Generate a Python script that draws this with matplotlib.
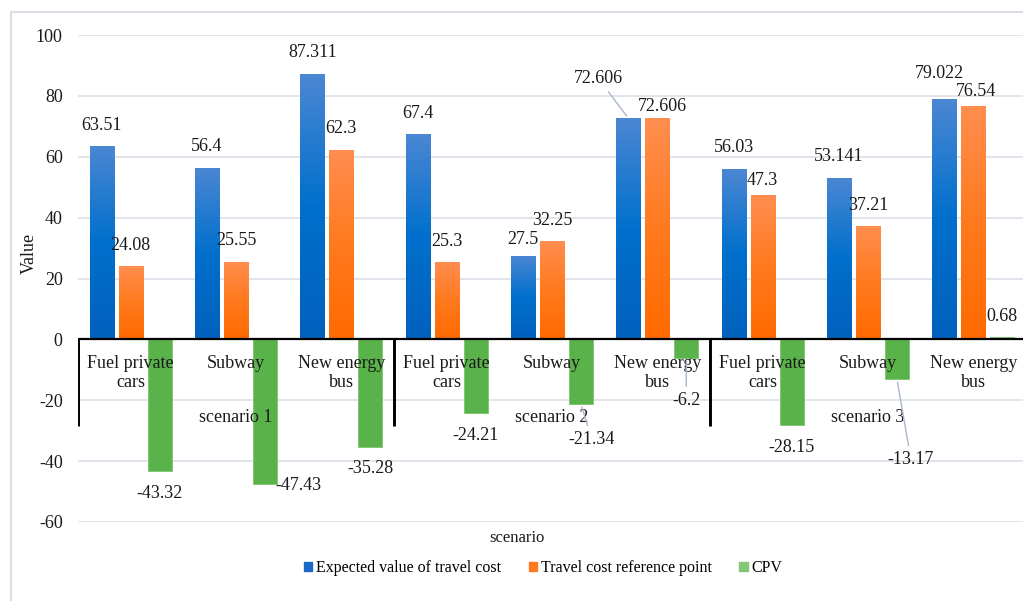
import matplotlib
matplotlib.use('Agg')
import matplotlib.pyplot as plt
import numpy as np
from matplotlib.colors import LinearSegmentedColormap
from matplotlib.patches import Patch

plt.rcParams['font.family'] = ['Liberation Serif', 'DejaVu Serif']
plt.rcParams['axes.unicode_minus'] = False

# data
categories = ['Fuel private\ncars', 'Subway', 'New energy\nbus'] * 3
groups = ['scenario 1', 'scenario 2', 'scenario 3']
expected = [63.51, 56.4, 87.311, 67.4, 27.5, 72.606, 56.03, 53.141, 79.022]
reference = [24.08, 25.55, 62.3, 25.3, 32.25, 72.606, 47.3, 37.21, 76.54]
cpv = [-43.32, -47.43, -35.28, -24.21, -21.34, -6.2, -28.15, -13.17, 0.68]
series_names = ['Expected value of travel cost', 'Travel cost reference point', 'CPV']

# label placement tweaks (offset pixels), (series, index) -> (dx, dy, leader)
label_moves = {
    (0, 4): (0, 16, False),
    (0, 5): (-30, 40, True),
    (1, 5): (5, 12, False),
    (1, 6): (0, 15, False),
    (0, 8): (-5, 25, False),
    (1, 8): (3, 15, False),
    (2, 1): (33, -2, False),
    (2, 4): (11, -35, True),
    (2, 5): (0, -42, True),
    (2, 7): (14, -80, True),
}

W, H = 1023, 601
fig = plt.figure(figsize=(W / 100, H / 100), dpi=100)
ax = fig.add_axes([78 / W, (H - 522) / H, 948 / W, 487 / H])

x = np.arange(len(categories))
bw = 0.228
step = 0.275

blue_cmap = LinearSegmentedColormap.from_list('b', [(0, '#4C87D3'), (0.5, '#0070CC'), (1, '#0061BD')])
orange_cmap = LinearSegmentedColormap.from_list('o', [(0, '#FF8E50'), (0.5, '#FF7A1E'), (1, '#FF6A00')])
grad = np.linspace(0, 1, 256).reshape(-1, 1)

b1 = ax.bar(x - step, expected, bw, color='none', zorder=2)
b2 = ax.bar(x, reference, bw, color='none', zorder=2)
b3 = ax.bar(x + step, cpv, bw, color='#5AB24A', edgecolor='#7DC46F', linewidth=0.6, zorder=2)

for bars, cmap in [(b1, blue_cmap), (b2, orange_cmap)]:
    for b in bars:
        x0, y0 = b.get_x(), b.get_y()
        im = ax.imshow(grad, cmap=cmap, aspect='auto', zorder=2,
                       extent=[x0, x0 + b.get_width(), y0, y0 + b.get_height()])
        im.set_clip_path(b)

ax.set_xlim(-0.5, len(categories) - 0.5)
ax.set_ylim(-60, 100)
ax.set_yticks(np.arange(-60, 101, 20))
ax.set_xticks([])
ax.tick_params(axis='y', length=0, pad=11, labelsize=13, labelcolor='#1a1a1a')
ax.yaxis.grid(True, color='#D9DEE5', linewidth=1.1)
ax.set_axisbelow(True)
for s in ax.spines.values():
    s.set_visible(False)

ax.axhline(0, color='black', linewidth=1.6, zorder=4)
ax.vlines([-0.5, 2.5, 5.5, 8.5], -28.5, 0, color='black', linewidth=2.1, zorder=4)

for i, c in enumerate(categories):
    ax.text(i, -5.2, c, ha='center', va='top', fontsize=13, linespacing=1.12,
            color='#1a1a1a', zorder=5)
for g, name in enumerate(groups):
    ax.text(3 * g + 1, -25.8, name, ha='center', va='center', fontsize=13,
            color='#1a1a1a', zorder=5)

for si, (bars, vals) in enumerate([(b1, expected), (b2, reference), (b3, cpv)]):
    for i, (b, v) in enumerate(zip(bars, vals)):
        dx, dy, leader = label_moves.get((si, i), (0, 21 if v >= 0 else -22, False))
        props = None
        if leader:
            props = dict(arrowstyle='-', color='#A9B8CA', linewidth=1.0, shrinkA=2, shrinkB=2)
        ax.annotate(f'{v:g}', xy=(b.get_x() + b.get_width() / 2, v), xytext=(dx, dy),
                    textcoords='offset pixels', ha='center', va='center', fontsize=13,
                    color='#1a1a1a', arrowprops=props, zorder=6, annotation_clip=False)

fig.text(29 / W, 1 - 253 / H, 'Value', rotation=90, ha='center', va='center',
         fontsize=13, color='#1a1a1a')
fig.text(517 / W, 1 - 538 / H, 'scenario', ha='center', va='center',
         fontsize=12, color='#1a1a1a')

handles = [Patch(color='#1C68C6'), Patch(color='#FF7A1E'), Patch(color='#82C773')]
fig.legend(handles, series_names, loc='center', bbox_to_anchor=(543 / W, 1 - 568 / H),
           ncol=3, frameon=False, fontsize=11.5, handlelength=0.55, handleheight=0.55,
           handletextpad=0.2, columnspacing=1.75)

# outer chart border
fig.add_artist(plt.Line2D([11 / W, 11 / W], [0, 1 - 12 / H], color='#D9DEE5', linewidth=1.5))
fig.add_artist(plt.Line2D([11 / W, 1], [1 - 12 / H, 1 - 12 / H], color='#D9DEE5', linewidth=1.5))

fig.savefig('out.png', dpi=100)
